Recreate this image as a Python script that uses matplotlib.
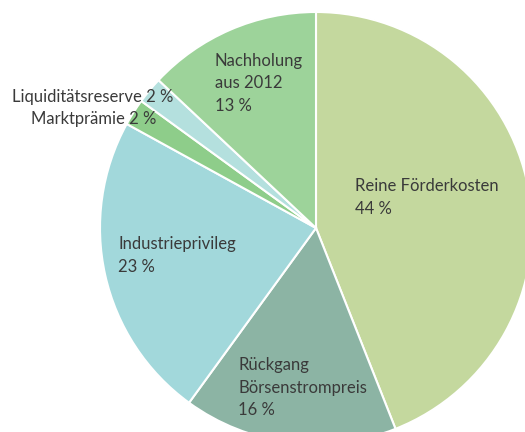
import matplotlib
matplotlib.use("Agg")
import matplotlib.pyplot as plt

categories = ["Reine Förderkosten", "Rückgang\nBörsenstrompreis", "Industrieprivileg",
              "Marktprämie", "Liquiditätsreserve", "Nachholung\naus 2012"]
values = [44, 16, 23, 2, 2, 13]
colors = ["#c4d89e", "#8cb4a4", "#a2d8db", "#8ecd8a", "#b4e0de", "#9dd39a"]

plt.rcParams['font.family'] = ['Lato', 'DejaVu Sans']

W, H = 525, 432
cx, cy = 316, 228
R = 216
fig = plt.figure(figsize=(W / 100, H / 100), dpi=100)
ax = fig.add_axes([0, 0, 1, 1])

ax.pie(values, colors=colors, startangle=90, counterclock=False, radius=R,
       wedgeprops=dict(edgecolor='white', linewidth=1.5), frame=True)
ax.set_xlim(-cx, W - cx)
ax.set_ylim(-(H - cy), cy)
ax.set_aspect('equal')
ax.axis('off')

tc = "#3a3a3a"
fs = 12
# label anchor positions in pixel coordinates (x, y of first line top), alignment
labels = [
    (f"{categories[0]}\n{values[0]} %", 355, 178, 'left'),
    (f"{categories[1]}\n{values[1]} %", 238, 357, 'left'),
    (f"{categories[2]}\n{values[2]} %", 118, 236, 'left'),
    (f"{categories[3]} {values[3]} %", 156, 111, 'right'),
    (f"{categories[4]} {values[4]} %", 173, 89, 'right'),
    (f"{categories[5]}\n{values[5]} %", 215, 53, 'left'),
]
for txt, px, py, ha in labels:
    ax.text(px - cx, cy - py, txt, ha=ha, va='top', fontsize=fs, color=tc,
            linespacing=1.5, clip_on=False)

fig.savefig("out.png", dpi=100)
